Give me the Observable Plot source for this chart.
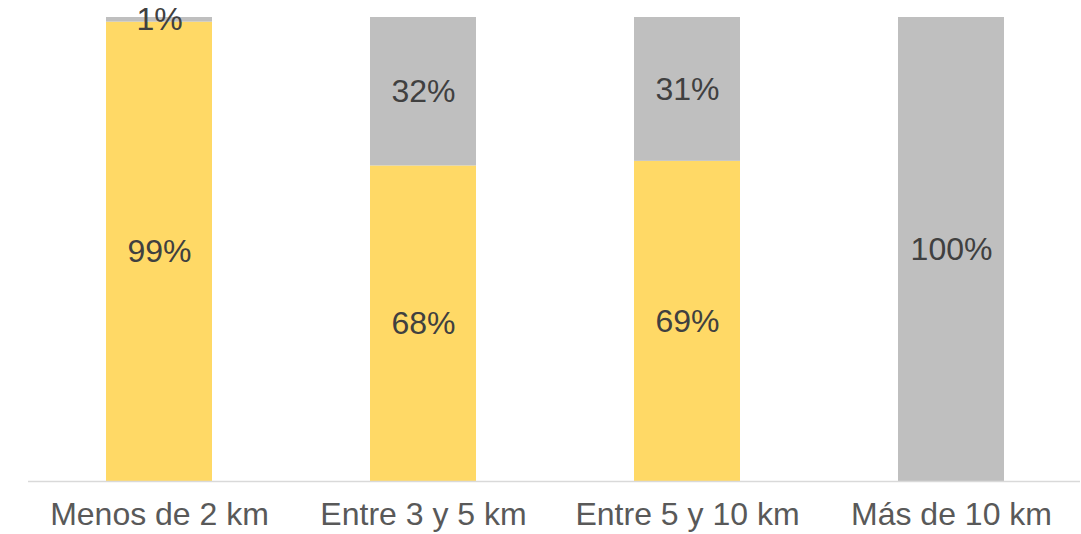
<!DOCTYPE html>
<html>
<head>
<meta charset="utf-8">
<script src="https://cdn.jsdelivr.net/npm/d3@7"></script>
<script src="https://cdn.jsdelivr.net/npm/@observablehq/plot@0.6"></script>
<style>
  html, body { margin: 0; padding: 0; background: #fff; }
</style>
</head>
<body>
<div id="chart"></div>
<script>
const categories = ["Menos de 2 km", "Entre 3 y 5 km", "Entre 5 y 10 km", "Más de 10 km"];
const seriesNames = ["Serie 1", "Serie 2"];
const serie1 = [99, 68, 69, 0];
const serie2 = [1, 32, 31, 100];
const colors = ["#FFD966", "#BFBFBF"];

const data = [];
categories.forEach((c, i) => {
  data.push({cat: c, serie: seriesNames[0], value: serie1[i]});
  data.push({cat: c, serie: seriesNames[1], value: serie2[i]});
});

const chart = Plot.plot({
  width: 1081,
  height: 534,
  marginLeft: 29,
  marginRight: 0,
  marginTop: 17,
  marginBottom: 53,
  style: {fontFamily: "'Liberation Sans', Arial, sans-serif", background: "#fff"},
  x: {domain: categories, paddingInner: 0.6, paddingOuter: 0.29, label: null},
  y: {domain: [0, 100], axis: null},
  color: {domain: seriesNames, range: colors},
  marks: [
    Plot.barY(data, Plot.stackY({x: "cat", y: "value", fill: "serie", order: seriesNames})),
    Plot.ruleY([0], {stroke: "#D9D9D9", strokeWidth: 1.5, dx: -1}),
    Plot.text(data.filter(d => d.value > 0), Plot.stackY({
      x: "cat", y: "value", z: "serie", order: seriesNames,
      text: d => d.value + "%",
      fill: "#404040", fontSize: 32
    })),
    Plot.axisX({tickSize: 0, tickPadding: 21, fontSize: 32, color: "#595959", label: null})
  ]
});
document.getElementById("chart").appendChild(chart);
</script>
</body>
</html>
